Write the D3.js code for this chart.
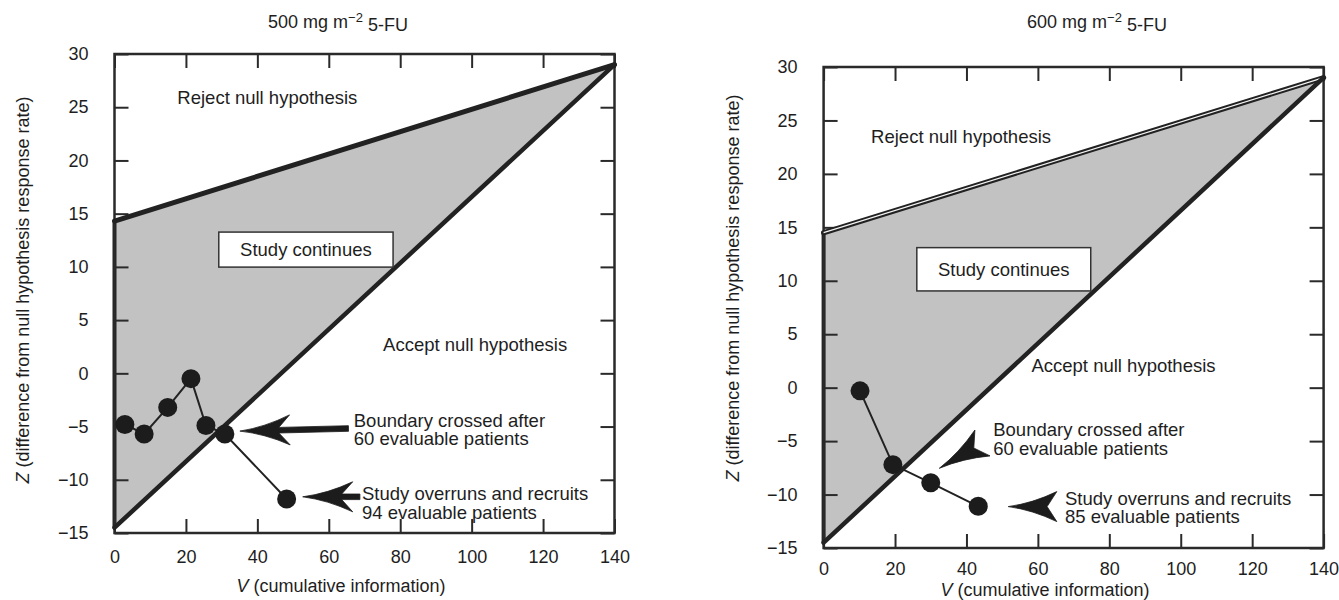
<!DOCTYPE html>
<html>
<head>
<meta charset="utf-8">
<script src="https://cdn.jsdelivr.net/npm/d3@7"></script>
<style>
  html, body { margin: 0; padding: 0; background: #ffffff; }
  svg { display: block; }
  text { font-family: "Liberation Sans", Arial, Helvetica, sans-serif; fill: #1e1e1e; }
</style>
</head>
<body>
<svg id="chart" width="1339" height="600"></svg>
<script>
// ---------------- data ----------------
const vTicks = [0, 20, 40, 60, 80, 100, 120, 140];
const zTicks = [-15, -10, -5, 0, 5, 10, 15, 20, 25, 30];
const vDomain = [0, 140];
const zDomain = [-15, 30];

const panelTitles = ["500 mg m", "600 mg m"];
const titleSup = "−2";
const titleTail = " 5-FU";
const xAxisTitle = " (cumulative information)";
const yAxisTitle = " (difference from null hypothesis response rate)";

// boundary lines (V at both ends, Z at both ends)
const boundaryV = [0, 140];
const upperZ500 = [14.3, 29];
const upperZ600 = [14.5, 29];
const lowerZ = [-14.5, 29];

// observed sample path
const pathV500 = [2.9, 8.3, 14.9, 21.4, 25.6, 30.9, 48.2];
const pathZ500 = [-4.8, -5.7, -3.2, -0.5, -4.9, -5.7, -11.8];
const pathV600 = [10.2, 19.4, 30.0, 43.3];
const pathZ600 = [-0.3, -7.2, -8.9, -11.1];

// annotation texts
const rejectText = "Reject null hypothesis";
const acceptText = "Accept null hypothesis";
const continuesText = "Study continues";
const crossedLines = ["Boundary crossed after", "60 evaluable patients"];
const overrunLines500 = ["Study overruns and recruits", "94 evaluable patients"];
const overrunLines600 = ["Study overruns and recruits", "85 evaluable patients"];

// ---------------- layout ----------------
const panels = [
  {
    title: panelTitles[0], titleX: 338, titleY: 22,
    xr: [114.5, 614.5], yr: [533, 54], xPad: 17,
    upper: upperZ500, pV: pathV500, pZ: pathZ500, doubleUpper: false,
    yTitle: { x: 23, y: 290 }, xTitleY: 586, xTitleX: 341,
    reject: [17.6, 25.9], accept: [75.2, 2.7],
    box: { v: [29.2, 78.0], z: [13.27, 9.98] },
    crossed: { v: 67, z: -4.4 },
    overrun: { v: 69.3, z: -11.3, lines: overrunLines500 },
    arrows: [
      { tip: [35.1, -5.43], tail: [65.5, -5.18] },
      { tip: [52.7, -11.6], tail: [68.7, -11.6] }
    ]
  },
  {
    title: panelTitles[1], titleX: 1097, titleY: 22,
    xr: [823.6, 1323.6], yr: [548, 67], xPad: 14,
    upper: upperZ600, pV: pathV600, pZ: pathZ600, doubleUpper: true,
    yTitle: { x: 733, y: 288 }, xTitleY: 589.5, xTitleX: 1045,
    reject: [13.3, 23.5], accept: [58.2, 2.1],
    box: { v: [26.1, 74.8], z: [13.1, 9.05] },
    crossed: { v: 47.5, z: -3.96 },
    overrun: { v: 67.6, z: -10.35, lines: overrunLines600 },
    arrows: [
      { tip: [32.4, -7.54], tail: [44.5, -5.17] },
      { tip: [51.7, -11.13], tail: [65.3, -11.13] }
    ]
  }
];

const ink = "#222";
const fontSize = 18;
const annoSize = 18.5;
const lineGap = 18.5;
const svg = d3.select("#chart");

function arrowPath(P, T) {
  const dx = T[0] - P[0], dy = T[1] - P[1];
  const len = Math.hypot(dx, dy);
  const ux = dx / len, uy = dy / len;
  const nx = -uy, ny = ux;
  const H = Math.min(50, len), W = 15, s = 2.8;
  const pt = (a, b) => [P[0] + ux * a + nx * b, P[1] + uy * a + ny * b];
  const f = p => p[0].toFixed(1) + "," + p[1].toFixed(1);
  const c1 = pt(H * 0.5, -W * 0.22), b1 = pt(H, -W);
  const c2 = pt(H * 0.5, W * 0.22), b2 = pt(H, W);
  let d = "M" + f(P) + " Q" + f(c1) + " " + f(b1);
  if (len > H + 1) {
    d += " L" + f(pt(H * 0.78, -s)) + " L" + f(pt(len, -s)) + " L" + f(pt(len, s)) + " L" + f(pt(H * 0.78, s));
  } else {
    d += " L" + f(pt(H * 0.8, 0));
  }
  d += " L" + f(b2) + " Q" + f(c2) + " " + f(P) + " Z";
  return d;
}

panels.forEach(p => {
  const x = d3.scaleLinear().domain(vDomain).range(p.xr);
  const y = d3.scaleLinear().domain(zDomain).range(p.yr);
  const g = svg.append("g");

  // shaded continuation region
  const region = [[boundaryV[0], p.upper[0]], [boundaryV[1], p.upper[1]], [boundaryV[0], lowerZ[0]]];
  g.append("path")
    .attr("d", d3.line().x(d => x(d[0])).y(d => y(d[1]))(region) + "Z")
    .attr("fill", "#c2c2c2").attr("stroke", "none");

  // left edge of region (thicker frame part)
  g.append("line")
    .attr("x1", x(boundaryV[0])).attr("x2", x(boundaryV[0]))
    .attr("y1", y(p.upper[0])).attr("y2", y(lowerZ[0]))
    .attr("stroke", ink).attr("stroke-width", 4);

  // frame
  g.append("rect")
    .attr("x", x(vDomain[0])).attr("y", y(zDomain[1]))
    .attr("width", x(vDomain[1]) - x(vDomain[0]))
    .attr("height", y(zDomain[0]) - y(zDomain[1]))
    .attr("fill", "none").attr("stroke", "#2a2a2a").attr("stroke-width", 2.5);

  // axes with inward ticks
  const ax = (sel) => {
    sel.select(".domain").remove();
    sel.selectAll(".tick line").attr("stroke", "#2a2a2a").attr("stroke-width", 2);
    sel.selectAll(".tick text").style("font-size", fontSize + "px")
      .style("font-family", '"Liberation Sans", Arial, Helvetica, sans-serif').attr("fill", "#1e1e1e");
  };
  g.append("g").attr("transform", `translate(0,${y(zDomain[0])})`)
    .call(d3.axisBottom(x).tickValues(vTicks).tickSize(-14).tickPadding(p.xPad).tickFormat(d3.format("d"))).call(ax);
  g.append("g").attr("transform", `translate(0,${y(zDomain[1])})`)
    .call(d3.axisTop(x).tickValues(vTicks).tickSize(-14).tickFormat("")).call(ax);
  g.append("g").attr("transform", `translate(${x(vDomain[0])},0)`)
    .call(d3.axisLeft(y).tickValues(zTicks).tickSize(-14).tickPadding(26).tickFormat(d3.format("d"))).call(ax);
  g.append("g").attr("transform", `translate(${x(vDomain[1])},0)`)
    .call(d3.axisRight(y).tickValues(zTicks).tickSize(-14).tickFormat("")).call(ax);

  // boundary lines
  const bl = d3.line().x(d => x(d[0])).y(d => y(d[1]));
  const upperPts = boundaryV.map((v, i) => [v, p.upper[i]]);
  const lowerPts = boundaryV.map((v, i) => [v, lowerZ[i]]);
  g.append("path").attr("d", bl(upperPts)).attr("fill", "none")
    .attr("stroke", ink).attr("stroke-width", p.doubleUpper ? 5.2 : 5).attr("stroke-linecap", "round");
  if (p.doubleUpper) {
    g.append("path").attr("d", bl(upperPts)).attr("fill", "none")
      .attr("stroke", "#f4f4f4").attr("stroke-width", 1.2);
  }
  g.append("path").attr("d", bl(lowerPts)).attr("fill", "none")
    .attr("stroke", ink).attr("stroke-width", 4.5).attr("stroke-linecap", "round");

  // study continues box
  const bx0 = x(p.box.v[0]), bx1 = x(p.box.v[1]), by0 = y(p.box.z[0]), by1 = y(p.box.z[1]);
  g.append("rect").attr("x", bx0).attr("y", by0).attr("width", bx1 - bx0).attr("height", by1 - by0)
    .attr("fill", "#ffffff").attr("stroke", "#333").attr("stroke-width", 1.5);
  g.append("text").attr("x", (bx0 + bx1) / 2).attr("y", (by0 + by1) / 2).attr("dy", "0.35em")
    .attr("text-anchor", "middle").style("font-size", annoSize + "px").text(continuesText);

  // sample path
  const pts = p.pV.map((v, i) => [v, p.pZ[i]]);
  g.append("path").attr("d", bl(pts)).attr("fill", "none").attr("stroke", ink).attr("stroke-width", 2);
  g.selectAll("circle.pt").data(pts).enter().append("circle")
    .attr("cx", d => x(d[0])).attr("cy", d => y(d[1])).attr("r", 9.5)
    .attr("fill", "#1c1c1c");

  // arrows
  p.arrows.forEach(a => {
    g.append("path")
      .attr("d", arrowPath([x(a.tip[0]), y(a.tip[1])], [x(a.tail[0]), y(a.tail[1])]))
      .attr("fill", "#1c1c1c").attr("stroke", "#1c1c1c").attr("stroke-width", 0.8);
  });

  // text annotations
  const label = (txt, vx, zy) => g.append("text").attr("x", x(vx)).attr("y", y(zy)).attr("dy", "0.35em")
    .style("font-size", annoSize + "px").text(txt);
  const label2 = (lines, vx, zy) => {
    const t = g.append("text").attr("x", x(vx)).attr("y", y(zy)).attr("dy", "0.35em")
      .style("font-size", annoSize + "px");
    lines.forEach((s, i) => t.append("tspan").attr("x", x(vx)).attr("dy", i === 0 ? "0.35em" : lineGap).text(s));
  };
  label(rejectText, p.reject[0], p.reject[1]);
  label(acceptText, p.accept[0], p.accept[1]);
  label2(crossedLines, p.crossed.v, p.crossed.z);
  label2(p.overrun.lines, p.overrun.v, p.overrun.z);

  // title
  const tt = svg.append("text").attr("x", p.titleX).attr("y", p.titleY).attr("dy", "0.35em")
    .attr("text-anchor", "middle").style("font-size", fontSize + "px").attr("fill", "#333");
  tt.append("tspan").text(p.title);
  tt.append("tspan").attr("dy", "-0.45em").style("font-size", "13px").text(titleSup);
  tt.append("tspan").attr("dy", "0.45em").text(titleTail);

  // x axis title
  const xt = svg.append("text").attr("x", p.xTitleX).attr("y", p.xTitleY).attr("dy", "0.35em")
    .attr("text-anchor", "middle").style("font-size", fontSize + "px");
  xt.append("tspan").style("font-style", "italic").text("V");
  xt.append("tspan").text(xAxisTitle);

  // y axis title
  const yt = svg.append("text")
    .attr("transform", `translate(${p.yTitle.x},${p.yTitle.y}) rotate(-90)`)
    .attr("dy", "0.35em").attr("text-anchor", "middle").style("font-size", fontSize + "px");
  yt.append("tspan").style("font-style", "italic").text("Z");
  yt.append("tspan").text(yAxisTitle);
});
</script>
</body>
</html>
